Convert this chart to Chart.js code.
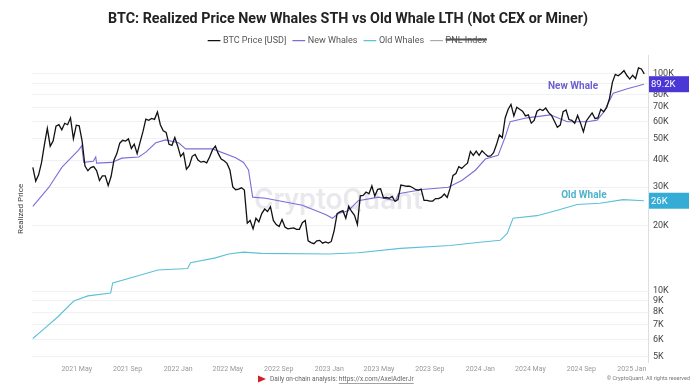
<!DOCTYPE html>
<html>
<head>
<meta charset="utf-8">
<script src="https://cdn.jsdelivr.net/npm/chart.js@4.4.1/dist/chart.umd.min.js"></script>
<style>
  html, body { margin: 0; padding: 0; background: #fff; }
  #wrap { width: 696px; height: 391px; position: relative; }
</style>
</head>
<body>
<div id="wrap"><canvas id="whaleChart"></canvas></div>
<script>
// x values are days counted from 2021-01-01
const tickDays = [120, 243, 365, 485, 608, 730, 850, 973, 1095, 1216, 1339, 1461];
const tickLabels = ['2021 May', '2021 Sep', '2022 Jan', '2022 May', '2022 Sep', '2023 Jan',
    '2023 May', '2023 Sep', '2024 Jan', '2024 May', '2024 Sep', '2025 Jan'];
const priceTicks = [5000, 6000, 7000, 8000, 9000, 10000, 20000, 30000, 40000, 50000,
    60000, 70000, 80000, 90000, 100000];

// BTC price, one reading per week starting 2021-01-15
const btcStartDay = 14;
const btcPrice = [
    // 2021
    37000, 32000, 34200, 38900, 47100, 55900, 46300, 48900, 57200, 58100, 55100, 59000, 58100,
    62500, 50100, 57800, 57400, 49000, 37500, 35700, 36900, 37300, 35800, 32200, 33800, 33800,
    30500, 33600, 39900, 42800, 47800, 49300, 48900, 50000, 45200, 47300, 42800, 48200, 54000,
    61600, 60900, 62100, 61500, 66500, 58100, 54500, 53600, 47200, 46700, 50800, 46300,
    // 2022
    41600, 43100, 36300, 37700, 41600, 42400, 40000, 39100, 39400, 38800, 41300, 44500, 46400,
    42800, 40400, 39700, 38600, 36000, 30100, 29200, 29400, 29800, 29100, 20500, 21100, 19300,
    21600, 20800, 22700, 23800, 23200, 24400, 21100, 20200, 19800, 21300, 19700, 19300, 19400,
    19500, 19200, 19200, 20600, 21100, 17000, 16700, 16500, 17000, 17100, 16600, 16800, 16600,
    // 2023
    16900, 19000, 22700, 23100, 23400, 21600, 24500, 23200, 22300, 20200, 27400, 27500, 28500,
    28000, 30400, 27300, 29300, 29500, 26800, 26900, 26700, 27200, 25800, 26300, 30700, 30500,
    30300, 30300, 29900, 29300, 29100, 29400, 26100, 26100, 25900, 25900, 26600, 26600, 27000,
    27900, 26900, 29700, 34000, 34700, 37300, 36600, 37700, 38700, 43800, 42000, 43900, 42000,
    // 2024
    44100, 42800, 41600, 41800, 43200, 47100, 52100, 50700, 62400, 68300, 72000, 63800, 69900,
    68500, 67100, 63800, 64500, 59100, 60800, 67000, 68500, 67500, 69300, 66000, 64100, 60300,
    56600, 57900, 66700, 67900, 61400, 60900, 59000, 64100, 59100, 53900, 60500, 63200, 65800,
    62100, 62400, 68400, 66600, 69500, 76700, 91000, 99000, 97500, 99900, 103000, 97800, 94200,
    // 2025
    98100, 94700, 106000, 104800, 99500
];

// realized price of new whales (short-term holders)
const newWhaleDays = [14, 53, 84, 125, 132, 137, 160, 166, 168, 205, 229, 270, 287, 311, 335,
    366, 383, 448, 504, 523, 535, 545, 576, 665, 721, 738, 752, 776, 800, 849, 890, 897, 955,
    1018, 1051, 1083, 1107, 1138, 1155, 1167, 1208, 1264, 1305, 1353, 1377, 1392, 1416, 1450, 1490];
const newWhales = [24500, 30000, 37000, 44500, 46500, 39000, 39500, 41300, 38700, 39000, 40800,
    41300, 43500, 48000, 49500, 48000, 45000, 45000, 41000, 39000, 36000, 27000, 26700, 24800,
    22500, 21600, 22700, 23400, 26000, 27000, 26000, 28000, 29300, 30000, 32300, 35900, 40400,
    42000, 51000, 60000, 62500, 64500, 60000, 60000, 61000, 66000, 81000, 85000, 89200];

// realized price of old whales (long-term holders)
const oldWhaleDays = [14, 41, 74, 113, 147, 202, 207, 258, 316, 388, 395, 455, 487, 523, 566,
    728, 800, 902, 1022, 1088, 1143, 1160, 1174, 1232, 1281, 1329, 1384, 1440, 1490];
const oldWhales = [6050, 6700, 7600, 9000, 9500, 9800, 10900, 11600, 12500, 12700, 13500, 14200,
    14800, 15100, 14900, 14800, 15000, 15700, 16200, 16700, 17100, 18400, 21600, 22200, 23500,
    25000, 25300, 26300, 26000];

const btcPoints = btcPrice.map((v, i) => ({ x: btcStartDay + i * 7, y: v }));
const newWhalePoints = newWhaleDays.map((d, i) => ({ x: d, y: newWhales[i] }));
const oldWhalePoints = oldWhaleDays.map((d, i) => ({ x: d, y: oldWhales[i] }));

const FONT = 'Roboto, "Liberation Sans", sans-serif';
const NEW_COLOR = '#7a6fd8';
const OLD_COLOR = '#5cc0d8';

function kLabel(v) {
    return (v / 1000) + 'K';
}

// watermark, series names, value badges and footer lines
const extrasPlugin = {
    id: 'extras',
    beforeDatasetsDraw(chart) {
        const { ctx, scales: { x, y } } = chart;
        ctx.save();
        ctx.font = '500 30px ' + FONT;
        ctx.fillStyle = 'rgba(185, 185, 200, 0.33)';
        ctx.textAlign = 'center';
        ctx.textBaseline = 'middle';
        ctx.fillText('CryptoQuant', x.getPixelForValue(752), y.getPixelForValue(25900));
        ctx.restore();
    },
    afterDraw(chart) {
        const { ctx, scales: { x, y } } = chart;
        ctx.save();

        // series names on the plot
        ctx.font = 'bold 10px ' + FONT;
        ctx.textAlign = 'center';
        ctx.textBaseline = 'middle';
        ctx.fillStyle = '#6d5fd2';
        ctx.fillText('New Whale', x.getPixelForValue(1319), y.getPixelForValue(86700));
        ctx.fillStyle = '#4fb3cc';
        ctx.fillText('Old Whale', x.getPixelForValue(1345), y.getPixelForValue(27600));

        // last-value badges on the right axis
        const badges = [
            { value: newWhales[newWhales.length - 1], text: '89.2K', bg: '#4b36d6' },
            { value: oldWhales[oldWhales.length - 1], text: '26K', bg: '#35acd6' }
        ];
        ctx.font = '9.5px ' + FONT;
        ctx.textAlign = 'left';
        badges.forEach(b => {
            const py = y.getPixelForValue(b.value);
            ctx.fillStyle = b.bg;
            ctx.fillRect(y.left + 1, py - 8, 40, 16);
            ctx.fillStyle = '#fff';
            ctx.fillText(b.text, y.left + 3, py + 0.5);
        });

        // footer
        const fy = 379;
        ctx.fillStyle = '#d0202a';
        ctx.beginPath();
        ctx.moveTo(258, fy - 3.5);
        ctx.lineTo(266, fy);
        ctx.lineTo(258, fy + 3.5);
        ctx.closePath();
        ctx.fill();
        ctx.font = '6.5px ' + FONT;
        ctx.fillStyle = '#666';
        ctx.textAlign = 'left';
        const lead = 'Daily on-chain analysis: ';
        ctx.fillText(lead, 270, fy);
        const lx = 270 + ctx.measureText(lead).width;
        const link = 'https://x.com/AxelAdlerJr';
        ctx.fillText(link, lx, fy);
        ctx.fillRect(lx, fy + 4, ctx.measureText(link).width, 0.6);

        ctx.font = '5.5px ' + FONT;
        ctx.fillStyle = '#777';
        ctx.textAlign = 'right';
        ctx.fillText('\u00a9 CryptoQuant. All rights reserved', 690, fy);
        ctx.restore();
    }
};

const ctx = document.getElementById('whaleChart').getContext('2d');
new Chart(ctx, {
    type: 'line',
    data: {
        datasets: [
            {
                label: 'BTC Price [USD]',
                data: btcPoints,
                borderColor: '#111',
                backgroundColor: '#111',
                borderWidth: 1.3,
                yAxisID: 'y'
            },
            {
                label: 'New Whales',
                data: newWhalePoints,
                borderColor: NEW_COLOR,
                backgroundColor: NEW_COLOR,
                borderWidth: 1.1,
                yAxisID: 'y'
            },
            {
                label: 'Old Whales',
                data: oldWhalePoints,
                borderColor: OLD_COLOR,
                backgroundColor: OLD_COLOR,
                borderWidth: 1.1,
                yAxisID: 'y'
            },
            {
                label: 'PNL Index',
                data: [],
                borderColor: '#999',
                backgroundColor: '#999',
                borderWidth: 1,
                hidden: true,
                yAxisID: 'y'
            }
        ]
    },
    options: {
        responsive: true,
        maintainAspectRatio: false,
        animation: false,
        elements: {
            point: { radius: 0 },
            line: { tension: 0 }
        },
        layout: { padding: { top: 0, right: 0, bottom: 16, left: 0 } },
        plugins: {
            title: {
                display: true,
                text: 'BTC: Realized Price New Whales STH vs Old Whale LTH (Not CEX or Miner)',
                color: '#222',
                font: { family: FONT, size: 14.3, weight: 'bold' },
                padding: { top: 11, bottom: 0 }
            },
            legend: {
                display: true,
                labels: {
                    usePointStyle: true,
                    pointStyle: 'line',
                    color: '#555',
                    padding: 8,
                    font: { family: FONT, size: 9 }
                }
            },
            tooltip: { enabled: false }
        },
        scales: {
            x: {
                type: 'linear',
                min: 12,
                max: 1500,
                grid: { display: false, drawTicks: false, tickLength: 0 },
                border: { display: false },
                afterBuildTicks(axis) {
                    axis.ticks = tickDays.map(v => ({ value: v }));
                },
                ticks: {
                    color: '#999',
                    font: { family: FONT, size: 7 },
                    maxRotation: 0,
                    padding: 2,
                    callback(value) {
                        const i = tickDays.indexOf(value);
                        return i >= 0 ? tickLabels[i] : '';
                    }
                }
            },
            y: {
                type: 'logarithmic',
                position: 'right',
                min: 4690,
                max: 121300,
                afterBuildTicks(axis) {
                    axis.ticks = priceTicks.map(v => ({ value: v }));
                },
                afterFit(axis) {
                    axis.width = 48;
                },
                grid: { color: '#f1f1f3', drawTicks: false },
                border: { display: true, color: '#dedede' },
                ticks: {
                    color: '#444',
                    padding: 5,
                    font: { family: FONT, size: 9 },
                    callback: v => kLabel(v)
                }
            },
            yTitle: {
                type: 'linear',
                position: 'left',
                display: true,
                grid: { display: false },
                border: { display: false },
                ticks: { display: false },
                afterFit(axis) {
                    axis.width = 32;
                },
                title: {
                    display: true,
                    text: 'Realized Price',
                    color: '#444',
                    font: { family: FONT, size: 8 },
                    padding: { top: 16, bottom: 0 }
                }
            }
        }
    },
    plugins: [extrasPlugin]
});
</script>
</body>
</html>
